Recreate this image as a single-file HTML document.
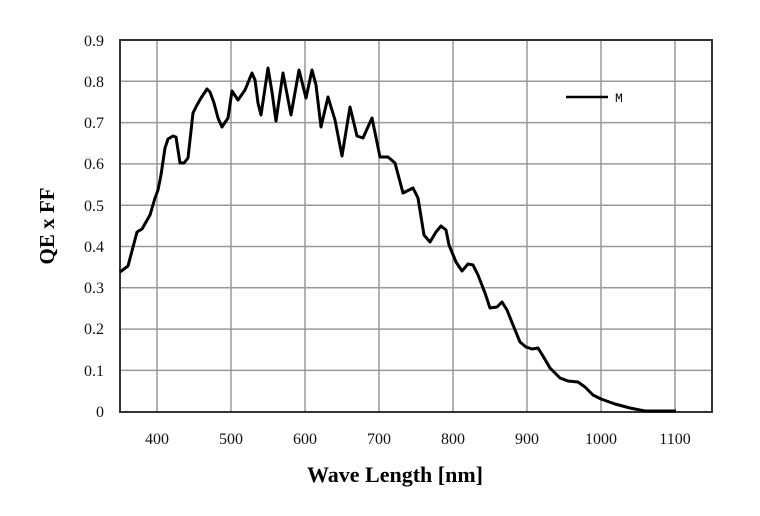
<!DOCTYPE html>
<html><head><style>body{margin:0;background:#fff}svg{display:block}</style></head><body>
<svg width="760" height="516" xmlns="http://www.w3.org/2000/svg" font-family="Liberation Serif, serif">
<rect width="760" height="516" fill="#fff"/>
<g stroke="#999" stroke-width="1.5">
<line x1="157" y1="40" x2="157" y2="412"/><line x1="231" y1="40" x2="231" y2="412"/><line x1="305" y1="40" x2="305" y2="412"/><line x1="379" y1="40" x2="379" y2="412"/><line x1="453" y1="40" x2="453" y2="412"/><line x1="527" y1="40" x2="527" y2="412"/><line x1="601" y1="40" x2="601" y2="412"/><line x1="675" y1="40" x2="675" y2="412"/>
<line x1="120" y1="81.3" x2="712" y2="81.3"/><line x1="120" y1="122.6" x2="712" y2="122.6"/><line x1="120" y1="163.9" x2="712" y2="163.9"/><line x1="120" y1="205.2" x2="712" y2="205.2"/><line x1="120" y1="246.5" x2="712" y2="246.5"/><line x1="120" y1="287.8" x2="712" y2="287.8"/><line x1="120" y1="329.1" x2="712" y2="329.1"/><line x1="120" y1="370.4" x2="712" y2="370.4"/>
</g>
<rect x="120" y="40" width="592" height="372" fill="none" stroke="#333" stroke-width="2"/>
<polyline fill="none" stroke="#000" stroke-width="3" stroke-linejoin="round" points="120,272 128,266 137,232 142,229 150,215 155,198 158,190 161,175 165,148 168,139 173,136 176,137 180,163 184,163 188,158 193,113 197,105 201,98 207,89 210,92 214,103 218,118 222,127 228,118 232,91 238,100 245,90 252,73 255,80 258,103 261,115 268,68 272,92 276,121 283,73 291,115 299,70 306,98 312,70 316,85 321,127 328,97 335,120 342,156 350,107 357,136 363,138 372,118 380,157 388,157 395,163 403,193 413,188 418,198 424,235 430,242 436,232 441,226 446,230 449,245 456,262 462,271 468,264 473,265 478,275 485,293 490,308 497,307 502,302 507,310 513,325 520,342 526,347 532,349 538,348 543,356 550,368 560,378 568,381 578,382 585,387 593,395 601,399 615,404 630,408 645,411 660,411 676,411"/>
<line x1="566" y1="97" x2="608" y2="97" stroke="#000" stroke-width="2.5"/>
<text x="615" y="102" font-size="13" font-family="Liberation Mono, monospace">M</text>
<g font-size="16" text-anchor="end" fill="#111">
<text x="104" y="46">0.9</text><text x="104" y="87">0.8</text><text x="104" y="128">0.7</text><text x="104" y="169">0.6</text><text x="104" y="211">0.5</text><text x="104" y="252">0.4</text><text x="104" y="293">0.3</text><text x="104" y="334">0.2</text><text x="104" y="376">0.1</text><text x="104" y="417">0</text>
</g>
<g font-size="16" text-anchor="middle" fill="#111">
<text x="157" y="444">400</text><text x="231" y="444">500</text><text x="305" y="444">600</text><text x="379" y="444">700</text><text x="453" y="444">800</text><text x="527" y="444">900</text><text x="601" y="444">1000</text><text x="675" y="444">1100</text>
</g>
<text x="395" y="482" font-size="22" font-weight="bold" text-anchor="middle">Wave Length [nm]</text>
<text transform="translate(54,226) rotate(-90)" font-size="21" font-weight="bold" text-anchor="middle">QE x FF</text>
</svg>
</body></html>
